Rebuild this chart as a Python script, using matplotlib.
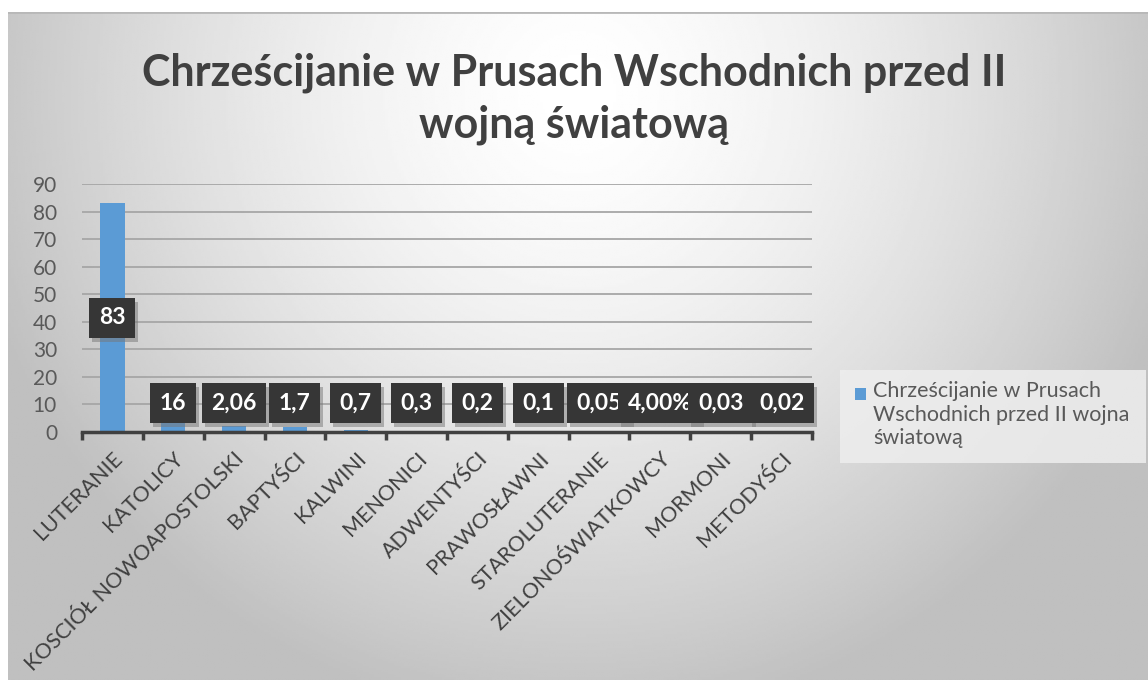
import numpy as np
import matplotlib.pyplot as plt
import matplotlib.patheffects as pe
from matplotlib.patches import Rectangle

# data
categories = ['LUTERANIE', 'KATOLICY', 'KOSCIÓŁ NOWOAPOSTOLSKI', 'BAPTYŚCI', 'KALWINI',
              'MENONICI', 'ADWENTYŚCI', 'PRAWOSŁAWNI', 'STAROLUTERANIE',
              'ZIELONOŚWIATKOWCY', 'MORMONI', 'METODYŚCI']
values = [83, 16, 2.06, 1.7, 0.7, 0.3, 0.2, 0.1, 0.05, 0.04, 0.03, 0.02]
value_labels = ['83', '16', '2,06', '1,7', '0,7', '0,3', '0,2', '0,1', '0,05', '4,00%', '0,03', '0,02']
yticks = [0, 10, 20, 30, 40, 50, 60, 70, 80, 90]

title = 'Chrześcijanie w Prusach Wschodnich przed II\nwojną światową'
series_name = 'Chrześcijanie w Prusach\nWschodnich przed II wojna\nświatową'
bar_color = '#5B9BD5'

plt.rcParams['font.family'] = ['Lato', 'DejaVu Sans']

W, H = 1148, 680
fig = plt.figure(figsize=(W / 100, H / 100), dpi=100)
fig.patch.set_facecolor('white')

# gradient background like the Excel chart area
bg = fig.add_axes([8 / W, 0, 1 - 8 / W, 1 - 12 / H], zorder=-5)
yy, xx = np.mgrid[0:1:300j, 0:1:500j]
d = np.sqrt(((xx - 0.5) / 0.55) ** 2 + ((yy - 0.12) / 0.95) ** 2)
shade = 1.0 - 0.25 * np.clip(d, 0, 1) ** 1.5
bg.imshow(shade, cmap='gray', vmin=0, vmax=1, aspect='auto', extent=[0, 1, 1, 0])
bg.axhline(0.0, color='#b8b8b8', lw=2)
bg.set_axis_off()

ax = fig.add_axes([82 / W, 1 - 432 / H, 730 / W, 248 / H])
ax.set_facecolor('none')
x = np.arange(len(categories))
ax.bar(x, values, width=0.4, color=bar_color, zorder=2)

ax.set_xlim(-0.5, len(categories) - 0.5)
ax.set_ylim(0, 90)
ax.set_yticks(yticks)
ax.tick_params(axis='y', length=0, pad=18, labelsize=15, labelcolor='#595959')
ax.set_xticks(x)
ax.set_xticklabels(categories, rotation=45, ha='right', rotation_mode='anchor',
                   fontsize=15.5, color='#404040')
ax.set_xticks(np.arange(len(categories) + 1) - 0.5, minor=True)
ax.tick_params(axis='x', which='major', length=0, pad=12)
ax.tick_params(axis='x', which='minor', length=6, width=2.5, color='#404040')
ax.yaxis.grid(True, color='#a6a6a6', lw=1.3)
ax.set_axisbelow(True)
for s in ['top', 'right', 'left']:
    ax.spines[s].set_visible(False)
ax.spines['bottom'].set_color('#404040')
ax.spines['bottom'].set_linewidth(2.5)
ax.spines['bottom'].set_zorder(3)

# data labels in dark boxes
for xi, v, lab in zip(x, values, value_labels):
    t = ax.text(xi, max(v / 2, 10.5), lab, ha='center', va='center', color='white',
                fontsize=16.5, fontweight='bold', zorder=5,
                bbox=dict(boxstyle='square,pad=0.42', fc='#363636', ec='none'))
    t.get_bbox_patch().set_path_effects([
        pe.SimplePatchShadow(offset=(2, -3), shadow_rgbFace='#777777', alpha=0.5),
        pe.Normal()])

fig.text(0.5, 1 - 99 / H, title, ha='center', va='center', fontsize=31, fontweight='bold',
         color='#404040', linespacing=1.35)

# legend box (Excel style: marker aligned with the first text line)
fig.patches.append(Rectangle((840 / W, 1 - 463 / H), (1146 - 840) / W, 93 / H,
                             transform=fig.transFigure, fc='#eeeeee', ec='none',
                             alpha=0.85, zorder=1))
fig.patches.append(Rectangle((855 / W, 1 - 400 / H), 11 / W, 12 / H,
                             transform=fig.transFigure, fc=bar_color, ec='none', zorder=2))
fig.text(873 / W, 1 - 381 / H, series_name, ha='left', va='top', fontsize=15.5,
         color='#595959', linespacing=1.22)

fig.savefig('out.png', dpi=100)
